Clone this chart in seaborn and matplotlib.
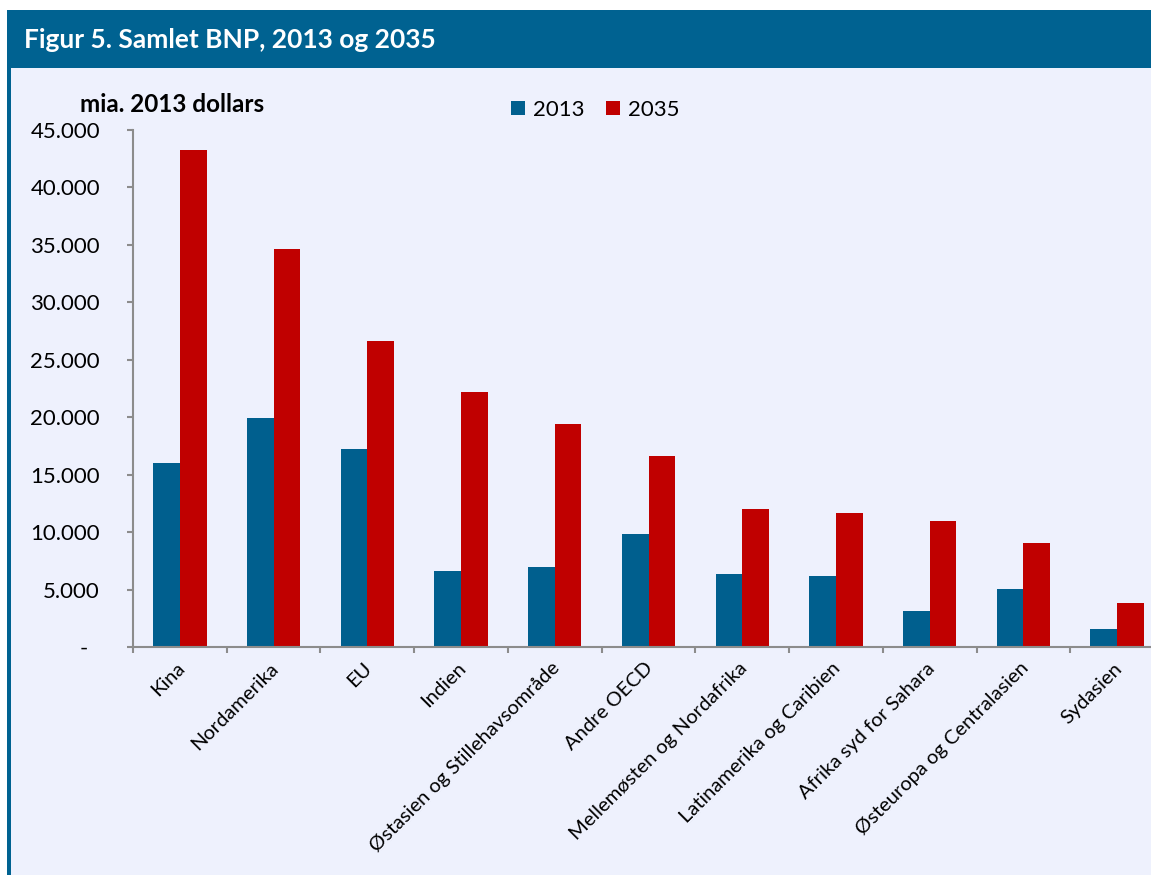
import matplotlib
matplotlib.use("Agg")
import matplotlib.pyplot as plt
import matplotlib.transforms as mtransforms
import seaborn as sns
import pandas as pd
from matplotlib.patches import Rectangle, Patch
from matplotlib.ticker import FuncFormatter, FixedLocator

regions = ["Kina", "Nordamerika", "EU", "Indien", "Østasien og Stillehavsområde",
           "Andre OECD", "Mellemøsten og Nordafrika", "Latinamerika og Caribien",
           "Afrika syd for Sahara", "Østeuropa og Centralasien", "Sydasien"]
gdp_2013 = [16000, 19930, 17230, 6600, 6950, 9830, 6350, 6180, 3130, 5050, 1570]
gdp_2035 = [43250, 34640, 26630, 22190, 19400, 16600, 12000, 11660, 10970, 9050, 3830]
years = ["2013", "2035"]
title = "Figur 5. Samlet BNP, 2013 og 2035"
unit = "mia. 2013 dollars"

BLUE = "#005F8E"
RED = "#C00000"
BG = "#EEF1FD"
FRAME = "#006291"
SPINE = "#8C8C8C"

df = pd.DataFrame({
    "region": regions * 2,
    "year": [years[0]] * len(regions) + [years[1]] * len(regions),
    "value": gdp_2013 + gdp_2035,
})

sns.set_theme(style="white")
plt.rcParams["font.family"] = ["Lato", "DejaVu Sans"]

W, H = 1151, 875
fig = plt.figure(figsize=(W / 100, H / 100), dpi=100, facecolor="white")

# frame: blue band + left border, lavender panel
fig.patches.append(Rectangle((7 / W, 0), 1 - 7 / W, 1 - 10 / H, transform=fig.transFigure,
                             facecolor=FRAME, edgecolor="none", zorder=-2))
fig.patches.append(Rectangle((11 / W, 0), 1 - 11 / W, 1 - 68 / H, transform=fig.transFigure,
                             facecolor=BG, edgecolor="none", zorder=-1))
fig.text(24 / W, 1 - 40 / H, title, color="white", fontsize=19, fontweight="bold",
         va="center", ha="left")

left, right = 133, 1164
top, bottom = 130, 647
ax = fig.add_axes([left / W, 1 - bottom / H, (right - left) / W, (bottom - top) / H])
ax.set_facecolor("none")

sns.barplot(data=df, x="region", y="value", hue="year", palette=[BLUE, RED],
            width=0.57, saturation=1, gap=0, legend=False, ax=ax, edgecolor="none")

ax.set_ylim(0, 45000)
ax.set_xlim(-0.5, len(regions) - 0.5)
ax.yaxis.set_major_locator(FixedLocator(range(0, 45001, 5000)))
ax.yaxis.set_major_formatter(FuncFormatter(
    lambda v, p: "-  " if v == 0 else f"{int(v):,}".replace(",", ".")))
ax.set_xlabel("")
ax.set_ylabel("")

for s in ["top", "right"]:
    ax.spines[s].set_visible(False)
for s in ["left", "bottom"]:
    ax.spines[s].set_color(SPINE)
    ax.spines[s].set_linewidth(1.5)

ax.tick_params(axis="y", which="major", direction="out", length=4.3, width=1.5,
               color=SPINE, labelsize=16, labelcolor="black", pad=19.5, left=True)
ax.set_xticks(range(len(regions)))
ax.set_xticklabels(regions, rotation=45, ha="right", rotation_mode="anchor",
                   fontsize=14.5, color="black")
ax.tick_params(axis="x", which="major", length=0, pad=9)
offset = mtransforms.ScaledTranslation(-4 / 100, 0, fig.dpi_scale_trans)
for lbl in ax.get_xticklabels():
    lbl.set_transform(lbl.get_transform() + offset)
ax.set_xticks([i - 0.5 for i in range(len(regions) + 1)], minor=True)
ax.tick_params(axis="x", which="minor", direction="out", length=4.3, width=1.5,
               color=SPINE, bottom=True)

fig.text(80 / W, 1 - 105 / H, unit, fontsize=17.5, fontweight="bold", va="center",
         ha="left", color="black")

handles = [Patch(facecolor=BLUE, edgecolor="none"), Patch(facecolor=RED, edgecolor="none")]
fig.legend(handles, years, loc="center left", bbox_to_anchor=(511 / W, 1 - 110 / H),
           ncol=2, frameon=False, fontsize=16, handlelength=0.63, handleheight=0.63,
           handletextpad=0.36, columnspacing=0.95, borderpad=0, borderaxespad=0,
           labelcolor="black")

fig.savefig("out.png", dpi=100, facecolor="white")
